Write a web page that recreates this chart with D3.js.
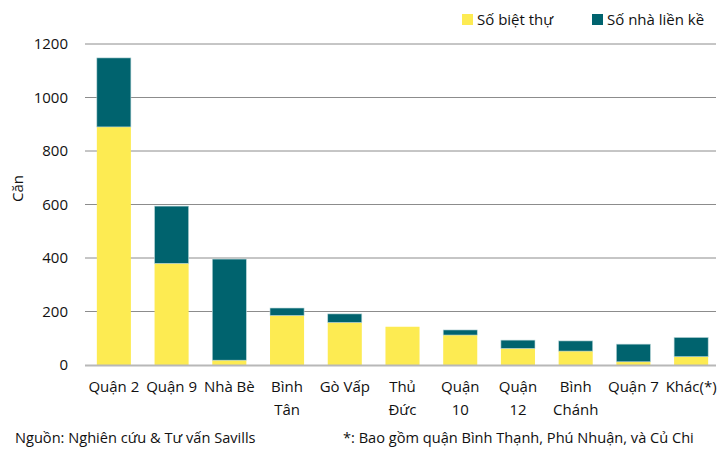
<!DOCTYPE html>
<html>
<head>
    <meta charset="utf-8">
    <title>stacked bars</title>
    <script type="text/javascript" src="https://d3js.org/d3.v7.min.js"></script>
    <style>
      body { margin: 0; background: #fff; }
      text { font-family: "Open Sans", "Noto Sans", sans-serif; fill: #111; }
    </style>
</head>
<body>
<script type="text/javascript">
        var width = 718
        var height = 449

        var districts = [["Quận 2"], ["Quận 9"], ["Nhà Bè"], ["Bình", "Tân"], ["Gò Vấp"], ["Thủ", "Đức"],
                         ["Quận", "10"], ["Quận", "12"], ["Bình", "Chánh"], ["Quận 7"], ["Khác(*)"]]
        var villas = [890, 380, 18, 185, 159, 143, 112, 62, 52, 12, 31]
        var townhouses = [258, 214, 378, 28, 32, 0, 19, 31, 38, 66, 72]
        var seriesNames = ["Số biệt thự", "Số nhà liền kề"]
        var colors = ["#fdeb52", "#00636e"]
        var yTicks = [0, 200, 400, 600, 800, 1000, 1200]

        var plotLeft = 85, plotRight = 720, plotTop = 44, plotBottom = 365

        var svg = d3.select("body").append("svg").attr("width", width).attr("height", height)

        var x = d3.scaleBand().domain(d3.range(districts.length)).range([plotLeft, plotRight]).paddingInner(0.41).paddingOuter(0.205)
        var y = d3.scaleLinear().domain([0, 1200]).range([plotBottom, plotTop])

        // grid
        svg.selectAll(".grid")
            .data(yTicks.filter(function(d) { return d > 0 }))
            .enter()
            .append("line")
            .attr("x1", plotLeft).attr("x2", 716)
            .attr("y1", function(d) { return y(d) }).attr("y2", function(d) { return y(d) })
            .attr("stroke", "#8c8c8c").attr("stroke-width", 1)

        svg.selectAll(".ytick")
            .data(yTicks)
            .enter()
            .append("text")
            .attr("x", 68)
            .attr("y", function(d) { return y(d) + 5 })
            .attr("text-anchor", "end")
            .attr("font-size", 15)
            .text(function(d) { return d })

        svg.append("text")
            .attr("transform", "translate(23," + y(660) + ") rotate(-90)")
            .attr("text-anchor", "middle")
            .attr("font-size", 15)
            .text("Căn")

        // stacked bars
        var stacks = [villas, townhouses]
        for (var s = 0; s < 2; s++) {
            svg.selectAll(".bar" + s)
                .data(districts)
                .enter()
                .append("rect")
                .attr("x", function(d, i) { return x(i) })
                .attr("width", x.bandwidth())
                .attr("y", function(d, i) {
                    var base = s == 0 ? 0 : villas[i]
                    return y(base + stacks[s][i])
                })
                .attr("height", function(d, i) { return y(0) - y(stacks[s][i]) })
                .attr("fill", colors[s])
                .attr("stroke", s == 1 ? "#b9d6d8" : "none")
                .attr("stroke-width", function(d, i) { return stacks[s][i] > 0 ? 0.6 : 0 })
        }

        svg.append("line")
            .attr("x1", plotLeft).attr("x2", 716)
            .attr("y1", plotBottom + 0.5).attr("y2", plotBottom + 0.5)
            .attr("stroke", "#b8b8b8").attr("stroke-width", 2)

        // x labels
        var xl = svg.selectAll(".xlabel")
            .data(districts)
            .enter()
            .append("text")
            .attr("text-anchor", "middle")
            .attr("font-size", 15)
        xl.selectAll("tspan")
            .data(function(d, i) { return d.map(function(t) { return { t: t, i: i } }) })
            .enter()
            .append("tspan")
            .attr("x", function(d) { return x(d.i) + x.bandwidth() / 2 })
            .attr("y", function(d, j) { return 392 + j * 23 })
            .text(function(d) { return d.t })

        // legend
        var lx = [462, 592]
        for (var k = 0; k < 2; k++) {
            svg.append("rect").attr("x", lx[k]).attr("y", 14).attr("width", 11).attr("height", 11).attr("fill", colors[k])
            svg.append("text").attr("x", lx[k] + 15).attr("y", 25).attr("font-size", 15).text(seriesNames[k])
        }

        // footer
        svg.append("text").attr("x", 15).attr("y", 443).attr("font-size", 14.6).text("Nguồn: Nghiên cứu & Tư vấn Savills")
        svg.append("text").attr("x", 343).attr("y", 443).attr("font-size", 14.6).text("*: Bao gồm quận Bình Thạnh, Phú Nhuận, và Củ Chi")
</script>
</body>
</html>
